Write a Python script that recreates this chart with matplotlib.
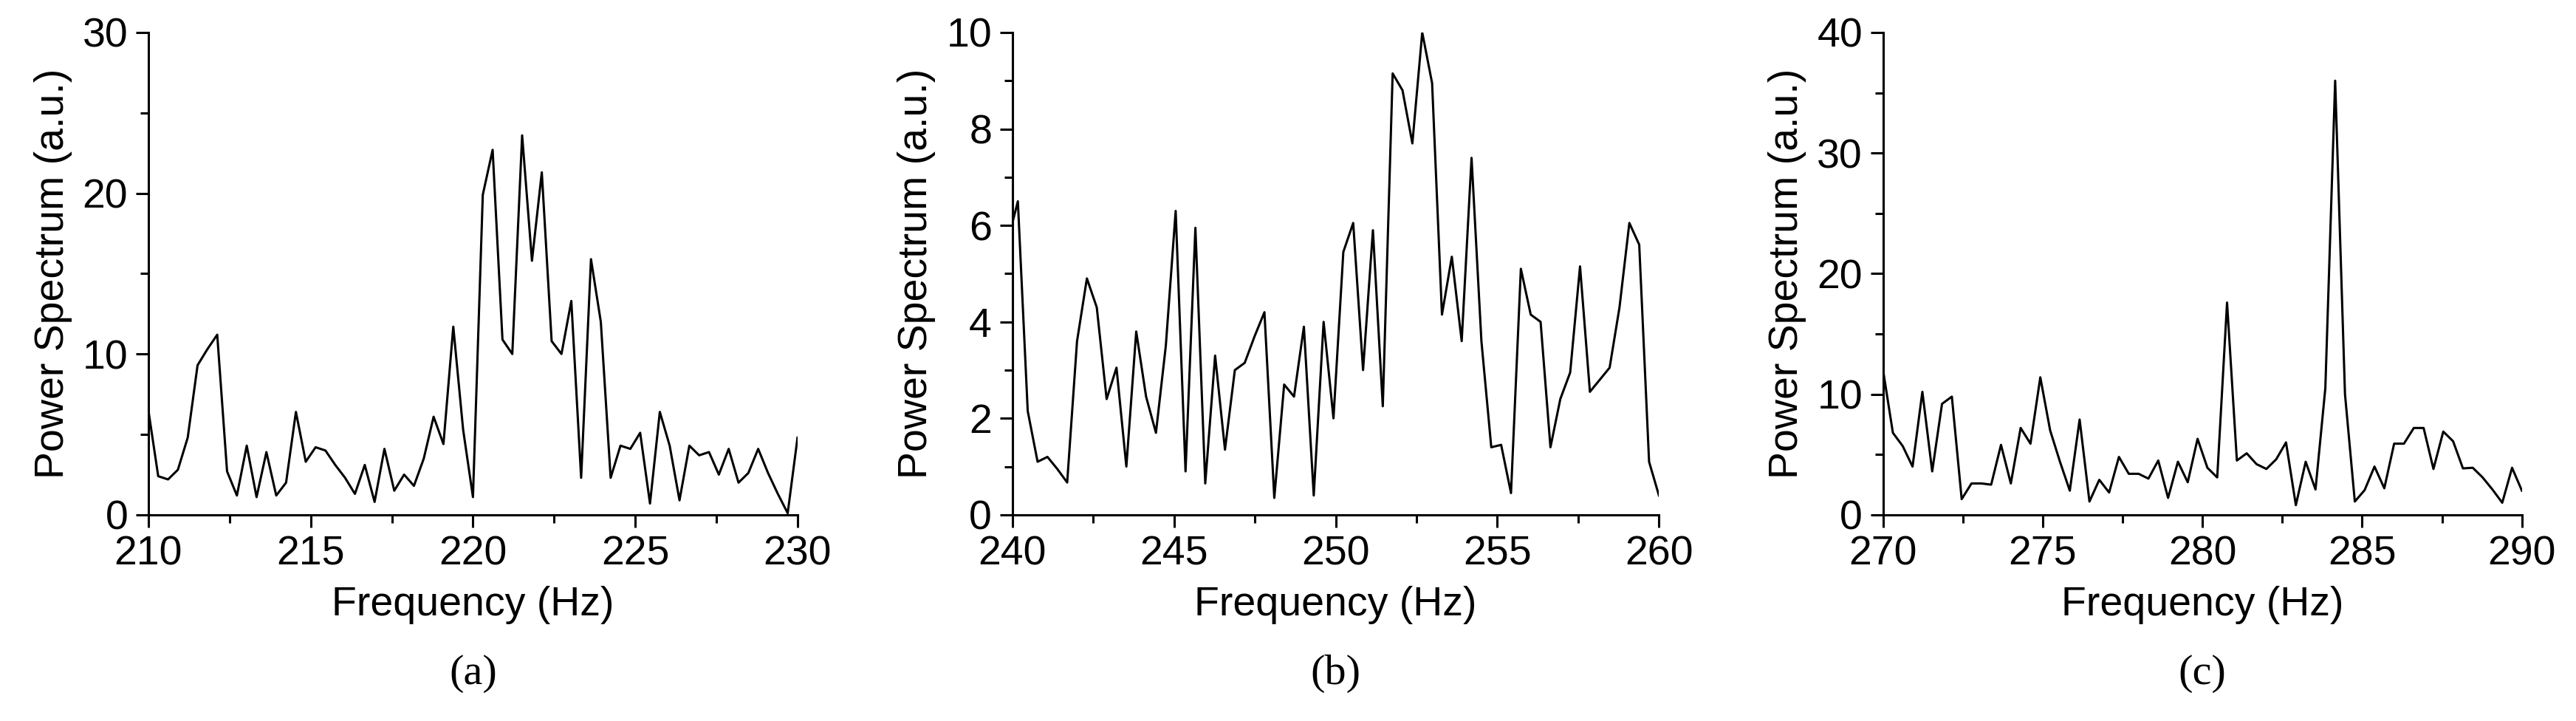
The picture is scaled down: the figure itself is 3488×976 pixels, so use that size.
import numpy as np
import matplotlib
matplotlib.use("Agg")
import matplotlib.pyplot as plt
from matplotlib.ticker import MultipleLocator

a_vals = [6.5,2.4,2.2,2.8,4.8, 9.3,10.3,11.2,2.7,1.2, 4.3,1.1,3.9,1.2,2.0, 6.4,3.3,4.2,4.0,3.1,
          2.3,1.3,3.1,0.8,4.1, 1.5,2.5,1.8,3.5,6.1, 4.4,11.7,5.3,1.1,19.9, 22.7,10.9,10.0,23.6,15.8,
          21.3,10.8,10.0,13.3,2.3, 15.9,12.0,2.3,4.3,4.1, 5.1,0.7,6.4,4.3,0.9, 4.3,3.7,3.9,2.5,4.1,
          2.0,2.6,4.1,2.6,1.3, 0.1,4.8]
b_vals = [6.05,6.5,2.15,1.1,1.2,0.95,0.67,3.6,4.9,4.3,2.4,3.05,1.0,3.8,2.45,1.7,3.5,6.3,0.9,5.95,
          0.65,3.3,1.35,3.0,3.15,3.7,4.2,0.35,2.7,2.45,3.9,0.4,4.0,2.0,5.45,6.05,3.0,5.9,2.25,9.15,
          8.8,7.7,10.0,8.95,4.15,5.35,3.6,7.4,3.6,1.4,1.45,0.45,5.1,4.15,4.0,1.4,2.4,2.95,5.15,2.55,
          2.8,3.05,4.3,6.05,5.6,1.1,0.4]
c_vals = [12.0,6.8,5.7,4.0,10.2,3.6,9.2,9.8,1.3,2.6,2.6,2.5,5.8,2.6,7.2,5.9,11.4,7.0,4.4,2.0,
          7.9,1.1,2.9,1.85,4.8,3.4,3.4,3.0,4.5,1.4,4.4,2.7,6.3,3.9,3.1,17.6,4.5,5.1,4.2,3.8,
          4.6,6.0,0.8,4.4,2.1,10.5,36.0,10.0,1.1,2.05,4.0,2.2,5.9,5.9,7.2,7.2,3.8,6.9,6.1,3.85,
          3.9,3.1,2.1,1.0,3.9,2.0]

a_x = np.linspace(210, 230, len(a_vals))
b_x = np.concatenate([[240.0], np.linspace(240.17, 260, len(b_vals) - 1)])
c_x = np.linspace(270, 290, len(c_vals))

panels = [
    (a_x, a_vals, (210, 230), (0, 30), 10, 5, "(a)", [0.0576, 0.286, 0.252, 0.669]),
    (b_x, b_vals, (240, 260), (0, 10), 2, 1, "(b)", [0.393, 0.286, 0.251, 0.669]),
    (c_x, c_vals, (270, 290), (0, 40), 10, 5, "(c)", [0.731, 0.286, 0.248, 0.669]),
]

plt.rcParams['font.family'] = ['Liberation Sans', 'DejaVu Sans']
fig = plt.figure(figsize=(34.88, 9.76), dpi=100)
for x, y, xl, yl, ymaj, ymin, lab, rect in panels:
    ax = fig.add_axes(rect)
    ax.plot(x, y, color='black', lw=2.2)
    ax.set_xlim(*xl)
    ax.set_ylim(*yl)
    ax.spines['top'].set_visible(False)
    ax.spines['right'].set_visible(False)
    for s in ('left', 'bottom'):
        ax.spines[s].set_linewidth(2.2)
    ax.xaxis.set_major_locator(MultipleLocator(5))
    ax.xaxis.set_minor_locator(MultipleLocator(2.5))
    ax.yaxis.set_major_locator(MultipleLocator(ymaj))
    ax.yaxis.set_minor_locator(MultipleLocator(ymin))
    ax.tick_params(which='major', length=12, width=2.2, labelsize=40, direction='out', pad=8)
    ax.tick_params(which='minor', length=8, width=2.2, direction='out')
    ax.set_xlabel("Frequency (Hz)", fontsize=40, labelpad=12)
    ax.set_ylabel("Power Spectrum (a.u.)", fontsize=40, labelpad=10)
    ax.text(0.5, -0.29, lab, transform=ax.transAxes, ha='center', va='top',
            fontsize=42, family=['Liberation Serif'])

fig.savefig("out.png", dpi=100, facecolor='white')
